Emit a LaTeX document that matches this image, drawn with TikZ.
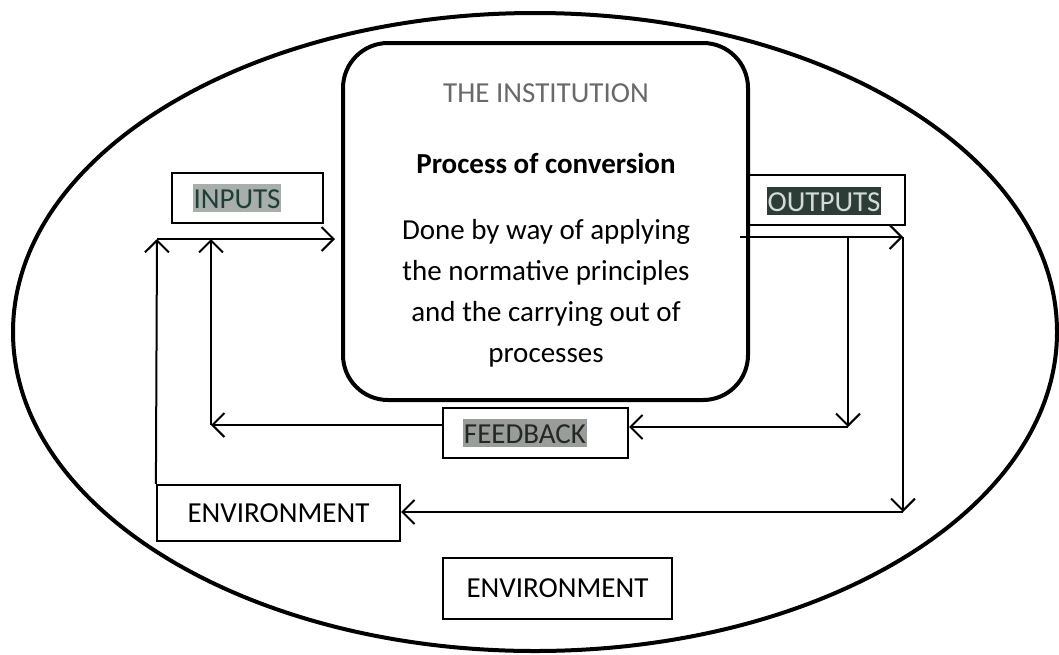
\documentclass[tikz,border=0pt]{standalone}
\usepackage{fontspec}
\setmainfont{Carlito}
\usetikzlibrary{arrows.meta,shapes.geometric,calc}
\definecolor{hlin}{RGB}{168,174,170}
\definecolor{txin}{RGB}{30,62,56}
\definecolor{hlout}{RGB}{44,60,55}
\definecolor{txout}{RGB}{212,218,214}
\definecolor{hlfb}{RGB}{152,157,154}
\definecolor{titlegray}{RGB}{105,105,105}
\begin{document}
\begin{tikzpicture}[x=1pt,y=-1pt,
  every node/.style={font=\fontsize{29}{41}\selectfont, inner sep=0pt},
  box/.style={draw, line width=2.2pt, minimum width=#1},
  arr/.style={line width=2pt, -{Straight Barb[length=12pt,width=24pt,line width=2pt]}},
  hl/.style={inner xsep=0.5pt, inner ysep=0pt, text height=24pt, text depth=4pt}]
\useasboundingbox (0,0) rectangle (1059,654);
\fill[white] (0,0) rectangle (1059,654);
% outer environment ellipse
\node[ellipse, draw, line width=4pt, minimum width=1044pt, minimum height=638pt] (world) at (535,332) {};
% institution
\node[draw, line width=4pt, rounded corners=45pt, minimum width=405pt, minimum height=357pt] (inst) at (545.5,221.5) {};
\node[text=titlegray] (title) at (546,93) {THE INSTITUTION};
\node[font=\fontsize{29}{41}\selectfont\bfseries] (proc) at (546,163) {Process of conversion};
\node[align=center, anchor=north] (desc) at (546,219) {Done by way of applying\\the normative principles\\and the carrying out of\\processes};
% boxes
\node[box=151pt, minimum height=50pt] (inputs) at (247.5,198) {};
\node[hl, fill=hlin, text=txin] (inputsT) at (237,198) {INPUTS};
\node[box=157pt, minimum height=50pt] (outputs) at (826.5,200) {};
\node[hl, fill=hlout, text=txout] (outputsT) at (824,201) {OUTPUTS};
\node[box=185pt, minimum height=50pt, fill=white] (feedback) at (535.5,433) {};
\node[hl, fill=hlfb, text=black!85] (feedbackT) at (525,433) {FEEDBACK};
\node[box=243pt, minimum height=56pt] (env1) at (278.5,513) {ENVIRONMENT};
\node[box=229pt, minimum height=61pt] (env2) at (557.5,588.5) {ENVIRONMENT};
% coordinates
\coordinate (inL) at (157,239);
\coordinate (inTip) at (335,239);
\coordinate (fbL) at (211,239);
\coordinate (fbC) at (211,425);
\coordinate (outS) at (740,237);
\coordinate (outR) at (903,237);
\coordinate (fbR) at (848,237);
\coordinate (fbRC) at (848,427);
\coordinate (envRC) at (903,512);
% inputs
\draw[arr] (inL) -- (inTip);
\draw[arr] (env1.north west) -- (inL);
% feedback to inputs
\draw[arr] (feedback.west |- fbC) -- (fbC);
\draw[arr] (fbC) -- (fbL);
% outputs
\draw[arr] (outS) -- (outR);
\draw[arr] (fbR) -- (fbRC);
\draw[arr] (fbRC) -- (feedback.east |- fbRC);
\draw[arr] (outR) -- (envRC);
\draw[arr] (envRC) -- (env1.east |- envRC);
\end{tikzpicture}
\end{document}
